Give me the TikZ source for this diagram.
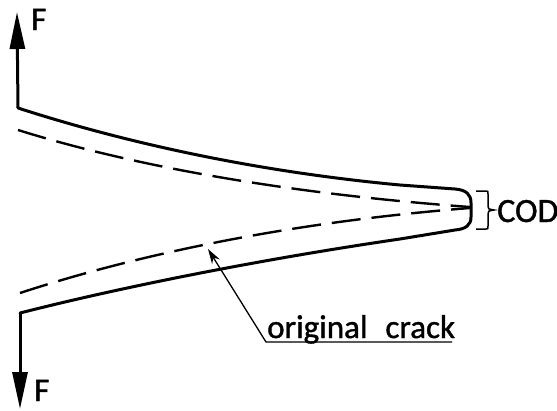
\documentclass[tikz,border=0pt]{standalone}
\usepackage{fontspec}
\setmainfont[FakeBold=1.2]{Carlito}
\usetikzlibrary{arrows.meta}
\tikzset{
  solidline/.style={line width=3pt,line join=round,line cap=round},
  dashline/.style={line width=2.4pt,dash pattern=on 29pt off 11pt},
  thinline/.style={line width=1.3pt},
  label/.style={inner sep=0pt,anchor=base west,text=black},
  headtip/.style={-{Triangle[length=37pt,width=15pt]}}
}
\begin{document}
\begin{tikzpicture}[x=1pt,y=-1pt]
\useasboundingbox (0,0) rectangle (557,410);
\coordinate (ua) at (18,108);
\coordinate (ut) at (17,12);
\coordinate (la) at (20,313);
\coordinate (lt) at (20,409);
\draw[solidline,line cap=butt,headtip] (ua) -- (ut);
\draw[solidline,line cap=butt,headtip] (la) -- (lt);
\draw[solidline] (ua) .. controls (120,141) and (250,171) .. (400,185)
  -- (455,189) .. controls (466,190) and (471,194) .. (471,203)
  -- (471,217) .. controls (471,225) and (466,229) .. (455,230)
  -- (400,239) .. controls (270,258) and (130,285) .. (la);
\draw[dashline] (18,130) .. controls (130,165) and (280,193) .. (470,207);
\draw[dashline] (20,293) .. controls (130,257) and (280,223) .. (470,208);
\coordinate (atip) at (208,249);
\coordinate (abend) at (266,342);
\coordinate (aend) at (452,342);
\draw[thinline,{Stealth[length=15pt,width=9pt]}-] (atip) -- (abend) -- (aend);
\draw[line width=1.5pt] (476,191) -- (486,191) .. controls (488,191) .. (488,194) -- (488,206) .. controls (488,209) .. (494,210) .. controls (488,211) .. (488,214) -- (488,226) .. controls (488,229) .. (486,229) -- (476,229);
\node[label,font=\fontsize{33}{33}\selectfont] (f1) at (31,30) {F};
\node[label,font=\fontsize{33}{33}\selectfont] (f2) at (34,401) {F};
\node[label,font=\fontsize{34}{34}\selectfont] (cod) at (497,222) {COD};
\node[label,font=\fontsize{33}{33}\selectfont] (oc) at (267,338) {original\hspace{18pt}crack};
\end{tikzpicture}
\end{document}
